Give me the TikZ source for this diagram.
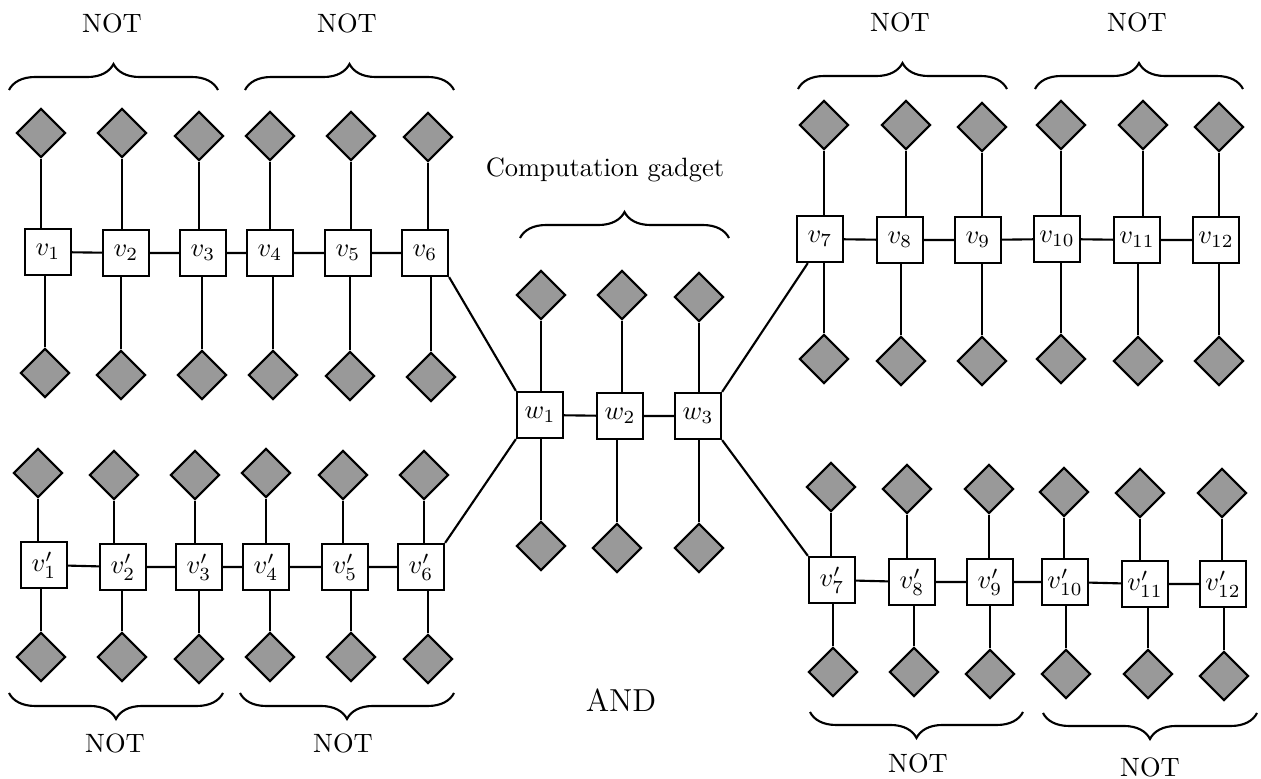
\documentclass[tikz,border=0pt]{standalone}
\usetikzlibrary{shapes.geometric,decorations.pathreplacing}

\begin{document}
\begin{tikzpicture}[x=0.3774pt,y=-0.3774pt,thick,
   vbox/.style={rectangle,draw,fill=white,minimum size=17.4pt,inner sep=0pt},
   lit/.style={diamond,draw,fill=black!40,minimum size=18.6pt,inner sep=0pt},
   brc/.style={decorate,decoration={brace,amplitude=9.8pt}},
   brcdown/.style={decorate,decoration={brace,amplitude=9.8pt,mirror}}]
   \useasboundingbox (0,0) rectangle (1261,779);
   % upper left chain
   \node (v1) at (48,252) [vbox] {$v_1$};
   \node (v2) at (126,253) [vbox] {$v_2$};
   \node (v3) at (203,253) [vbox] {$v_3$};
   \node (v4) at (270,253) [vbox] {$v_4$};
   \node (v5) at (348,253) [vbox] {$v_5$};
   \node (v6) at (425,253) [vbox] {$v_6$};
   \node (t1) at (41,133) [lit] {};
   \node (t2) at (122,133) [lit] {};
   \node (t3) at (199,136) [lit] {};
   \node (t4) at (270,136) [lit] {};
   \node (t5) at (351,136) [lit] {};
   \node (t6) at (428,137) [lit] {};
   \node (b1) at (45,373) [lit] {};
   \node (b2) at (121,375) [lit] {};
   \node (b3) at (202,375) [lit] {};
   \node (b4) at (273,375) [lit] {};
   \node (b5) at (350,376) [lit] {};
   \node (b6) at (431,377) [lit] {};
   % lower left chain
   \node (vp1) at (44,565) [vbox] {$v'_1$};
   \node (vp2) at (123,567) [vbox] {$v'_2$};
   \node (vp3) at (199,567) [vbox] {$v'_3$};
   \node (vp4) at (266,567) [vbox] {$v'_4$};
   \node (vp5) at (345,567) [vbox] {$v'_5$};
   \node (vp6) at (421,567) [vbox] {$v'_6$};
   \node (tp1) at (38,473) [lit] {};
   \node (tp2) at (114,475) [lit] {};
   \node (tp3) at (195,475) [lit] {};
   \node (tp4) at (266,473) [lit] {};
   \node (tp5) at (343,475) [lit] {};
   \node (tp6) at (424,475) [lit] {};
   \node (bp1) at (41,657) [lit] {};
   \node (bp2) at (122,657) [lit] {};
   \node (bp3) at (199,659) [lit] {};
   \node (bp4) at (270,657) [lit] {};
   \node (bp5) at (351,657) [lit] {};
   \node (bp6) at (428,659) [lit] {};
   % computation gadget
   \node (w1) at (540,415) [vbox] {$w_1$};
   \node (w2) at (620,416) [vbox] {$w_2$};
   \node (w3) at (698,416) [vbox] {$w_3$};
   \node (tw1) at (541,295) [lit] {};
   \node (tw2) at (622,295) [lit] {};
   \node (tw3) at (699,297) [lit] {};
   \node (bw1) at (541,546) [lit] {};
   \node (bw2) at (617,548) [lit] {};
   \node (bw3) at (699,548) [lit] {};
   % upper right chain
   \node (v7) at (820,239) [vbox] {$v_7$};
   \node (v8) at (900,240) [vbox] {$v_8$};
   \node (v9) at (978,240) [vbox] {$v_9$};
   \node (v10) at (1057,239) [vbox] {$v_{10}$};
   \node (v11) at (1137,240) [vbox] {$v_{11}$};
   \node (v12) at (1216,240) [vbox] {$v_{12}$};
   \node (t7) at (824,125) [lit] {};
   \node (t8) at (906,125) [lit] {};
   \node (t9) at (982,127) [lit] {};
   \node (t10) at (1061,125) [lit] {};
   \node (t11) at (1143,125) [lit] {};
   \node (t12) at (1219,127) [lit] {};
   \node (b7) at (824,359) [lit] {};
   \node (b8) at (901,361) [lit] {};
   \node (b9) at (982,361) [lit] {};
   \node (b10) at (1061,359) [lit] {};
   \node (b11) at (1138,361) [lit] {};
   \node (b12) at (1219,361) [lit] {};
   % lower right chain
   \node (vp7) at (832,580) [vbox] {$v'_7$};
   \node (vp8) at (912,582) [vbox] {$v'_8$};
   \node (vp9) at (990,582) [vbox] {$v'_9$};
   \node (vp10) at (1065,582) [vbox] {$v'_{10}$};
   \node (vp11) at (1145,584) [vbox] {$v'_{11}$};
   \node (vp12) at (1223,584) [vbox] {$v'_{12}$};
   \node (tp7) at (831,487) [lit] {};
   \node (tp8) at (907,489) [lit] {};
   \node (tp9) at (989,489) [lit] {};
   \node (tp10) at (1064,492) [lit] {};
   \node (tp11) at (1140,493) [lit] {};
   \node (tp12) at (1222,493) [lit] {};
   \node (bp7) at (833,672) [lit] {};
   \node (bp8) at (914,672) [lit] {};
   \node (bp9) at (990,674) [lit] {};
   \node (bp10) at (1066,674) [lit] {};
   \node (bp11) at (1148,674) [lit] {};
   \node (bp12) at (1224,676) [lit] {};
   % chains
   \draw (v1) -- (v2) -- (v3) -- (v4) -- (v5) -- (v6);
   \draw (vp1) -- (vp2) -- (vp3) -- (vp4) -- (vp5) -- (vp6);
   \draw (w1) -- (w2) -- (w3);
   \draw (v7) -- (v8) -- (v9) -- (v10) -- (v11) -- (v12);
   \draw (vp7) -- (vp8) -- (vp9) -- (vp10) -- (vp11) -- (vp12);
   \draw (v6.south east) -- (w1.north west);
   \draw (vp6.north east) -- (w1.south west);
   \draw (w3.north east) -- ([xshift=4.5pt]v7.south west);
   \draw (w3.south east) -- (vp7.north west);
   % legs
   \draw (t1) -- (t1 |- v1.north);   \draw (b1) -- (b1 |- v1.south);
   \draw (t2) -- (t2 |- v2.north);   \draw (b2) -- (b2 |- v2.south);
   \draw (t3) -- (t3 |- v3.north);   \draw (b3) -- (b3 |- v3.south);
   \draw (t4) -- (t4 |- v4.north);   \draw (b4) -- (b4 |- v4.south);
   \draw (t5) -- (t5 |- v5.north);   \draw (b5) -- (b5 |- v5.south);
   \draw (t6) -- (t6 |- v6.north);   \draw (b6) -- (b6 |- v6.south);
   \draw (tp1) -- (tp1 |- vp1.north);   \draw (bp1) -- (bp1 |- vp1.south);
   \draw (tp2) -- (tp2 |- vp2.north);   \draw (bp2) -- (bp2 |- vp2.south);
   \draw (tp3) -- (tp3 |- vp3.north);   \draw (bp3) -- (bp3 |- vp3.south);
   \draw (tp4) -- (tp4 |- vp4.north);   \draw (bp4) -- (bp4 |- vp4.south);
   \draw (tp5) -- (tp5 |- vp5.north);   \draw (bp5) -- (bp5 |- vp5.south);
   \draw (tp6) -- (tp6 |- vp6.north);   \draw (bp6) -- (bp6 |- vp6.south);
   \draw (tw1) -- (tw1 |- w1.north);   \draw (bw1) -- (bw1 |- w1.south);
   \draw (tw2) -- (tw2 |- w2.north);   \draw (bw2) -- (bw2 |- w2.south);
   \draw (tw3) -- (tw3 |- w3.north);   \draw (bw3) -- (bw3 |- w3.south);
   \draw (t7) -- (t7 |- v7.north);   \draw (b7) -- (b7 |- v7.south);
   \draw (t8) -- (t8 |- v8.north);   \draw (b8) -- (b8 |- v8.south);
   \draw (t9) -- (t9 |- v9.north);   \draw (b9) -- (b9 |- v9.south);
   \draw (t10) -- (t10 |- v10.north);   \draw (b10) -- (b10 |- v10.south);
   \draw (t11) -- (t11 |- v11.north);   \draw (b11) -- (b11 |- v11.south);
   \draw (t12) -- (t12 |- v12.north);   \draw (b12) -- (b12 |- v12.south);
   \draw (tp7) -- (tp7 |- vp7.north);   \draw (bp7) -- (bp7 |- vp7.south);
   \draw (tp8) -- (tp8 |- vp8.north);   \draw (bp8) -- (bp8 |- vp8.south);
   \draw (tp9) -- (tp9 |- vp9.north);   \draw (bp9) -- (bp9 |- vp9.south);
   \draw (tp10) -- (tp10 |- vp10.north);   \draw (bp10) -- (bp10 |- vp10.south);
   \draw (tp11) -- (tp11 |- vp11.north);   \draw (bp11) -- (bp11 |- vp11.south);
   \draw (tp12) -- (tp12 |- vp12.north);   \draw (bp12) -- (bp12 |- vp12.south);
   % braces and labels
   \draw[brc] (9,90) -- (218,90);
   \draw[brc] (245,90) -- (454,90);
   \draw[brcdown] (9,693) -- (223,693);
   \draw[brcdown] (240,693) -- (454,693);
   \draw[brc] (520,238) -- (729,238);
   \draw[brc] (798,89) -- (1007,89);
   \draw[brc] (1035,89) -- (1243,89);
   \draw[brcdown] (810,712) -- (1023,712);
   \draw[brcdown] (1043,713) -- (1257,713);
   \node (not1) at (112,23) {NOT};
   \node (not2) at (347,23) {NOT};
   \node (not3) at (115,743) {NOT};
   \node (not4) at (343,743) {NOT};
   \node (comp) at (605,170) {Computation gadget};
   \node (not5) at (900,22) {NOT};
   \node (not6) at (1137,22) {NOT};
   \node (not7) at (918,763) {NOT};
   \node (not8) at (1150,767) {NOT};
   \node (and) at (621,700) {\large AND};
\end{tikzpicture}
\end{document}
